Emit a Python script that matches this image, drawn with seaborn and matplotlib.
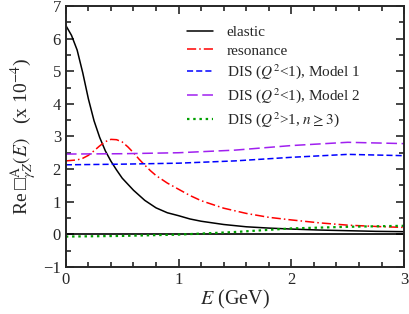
import numpy as np
import pandas as pd
import matplotlib
matplotlib.use('Agg')
import matplotlib.pyplot as plt
from matplotlib.ticker import MultipleLocator
import seaborn as sns

# values (units of 1e-4)
E_el = [0, 0.05, 0.1, 0.15, 0.2, 0.25, 0.3, 0.35, 0.4, 0.45, 0.5, 0.6, 0.7, 0.8, 0.9, 1.0,
        1.1, 1.2, 1.4, 1.6, 1.8, 2.0, 2.25, 2.5, 2.75, 3.0]
elastic = [6.40, 6.10, 5.65, 4.95, 4.15, 3.48, 2.97, 2.56, 2.24, 1.97, 1.72, 1.35, 1.04, 0.81, 0.66, 0.57,
           0.47, 0.40, 0.30, 0.23, 0.19, 0.16, 0.13, 0.11, 0.09, 0.08]

E_res = [0, 0.1, 0.15, 0.2, 0.25, 0.3, 0.35, 0.4, 0.45, 0.5, 0.55, 0.6, 0.65, 0.7, 0.75, 0.8, 0.9, 1.0,
         1.1, 1.2, 1.4, 1.6, 1.8, 2.0, 2.25, 2.5, 2.75, 3.0]
resonance = [2.25, 2.28, 2.33, 2.42, 2.56, 2.71, 2.84, 2.91, 2.9, 2.83, 2.68, 2.5, 2.3, 2.12, 1.95, 1.8, 1.57, 1.38,
             1.19, 1.03, 0.8, 0.64, 0.52, 0.44, 0.35, 0.28, 0.24, 0.21]

E_dis = [0, 0.5, 1.0, 1.5, 2.0, 2.5, 3.0]
dis_m1 = [2.13, 2.15, 2.18, 2.25, 2.36, 2.45, 2.41]
dis_m2 = [2.46, 2.47, 2.5, 2.58, 2.72, 2.82, 2.78]
dis_hi = [-0.07, -0.05, -0.01, 0.07, 0.18, 0.23, 0.26]

yticks = [-1, 0, 1, 2, 3, 4, 5, 6, 7]
ytick_labels = ['\u22121', '0', '1', '2', '3', '4', '5', '6', '7']

sns.set_style('ticks')
plt.rcParams['font.family'] = ['Liberation Serif', 'DejaVu Serif']
plt.rcParams['mathtext.fontset'] = 'stix'
plt.rcParams['axes.linewidth'] = 1.4

fig, ax = plt.subplots(figsize=(4.09, 3.14), dpi=100)
fig.subplots_adjust(left=0.161, right=0.988, top=0.981, bottom=0.150)

ax.axhline(0, color='black', lw=1.2)

sns.lineplot(x=E_el, y=elastic, ax=ax, color='black', lw=1.1, label='elastic')
sns.lineplot(x=E_res, y=resonance, ax=ax, color='#ff0000', lw=1.1,
             label='resonance').lines[-1].set_dashes([6, 2, 1, 2])
sns.lineplot(x=E_dis, y=dis_m1, ax=ax, color='#0000ff', lw=1.1,
             label=r'DIS ($Q^2$<1), Model 1').lines[-1].set_dashes([4, 2])
sns.lineplot(x=E_dis, y=dis_m2, ax=ax, color='#a020f0', lw=1.1,
             label=r'DIS ($Q^2$<1), Model 2').lines[-1].set_dashes([7, 3])
l = sns.lineplot(x=E_dis, y=dis_hi, ax=ax, color='#00a000', lw=1.6,
                 label=r'DIS ($Q^2$>1, $n \geq 3$)').lines[-1]
l.set_dashes([1.1, 1.7])
l.set_dash_capstyle('butt')

ax.set_xlim(0, 3)
ax.set_ylim(-1, 7)
ax.xaxis.set_major_locator(MultipleLocator(1))
ax.xaxis.set_minor_locator(MultipleLocator(0.2))
ax.set_yticks(yticks)
ax.set_yticklabels(ytick_labels)
ax.yaxis.set_minor_locator(MultipleLocator(0.5))
ax.tick_params(which='both', direction='in', top=True, right=True, labelsize=12, width=1.2)
ax.tick_params(which='major', length=6)
ax.tick_params(which='minor', length=3.5)

ax.set_xlabel(r'$E$ (GeV)', fontsize=14.5, labelpad=0)
ax.set_ylabel('Re\u2009\u25a1' + r'$^{\rm A}_{\gamma Z}(E)$   (x 10$^{-4}$)', fontsize=14, labelpad=3)

leg = ax.legend(loc='upper left', frameon=False, fontsize=11, handlelength=1.7,
                handletextpad=0.9, labelspacing=0.32, borderpad=0,
                bbox_to_anchor=(0.336, 0.955))
for h in leg.get_lines():
    h.set_dash_capstyle('butt')

fig.savefig('out.png', dpi=100)
